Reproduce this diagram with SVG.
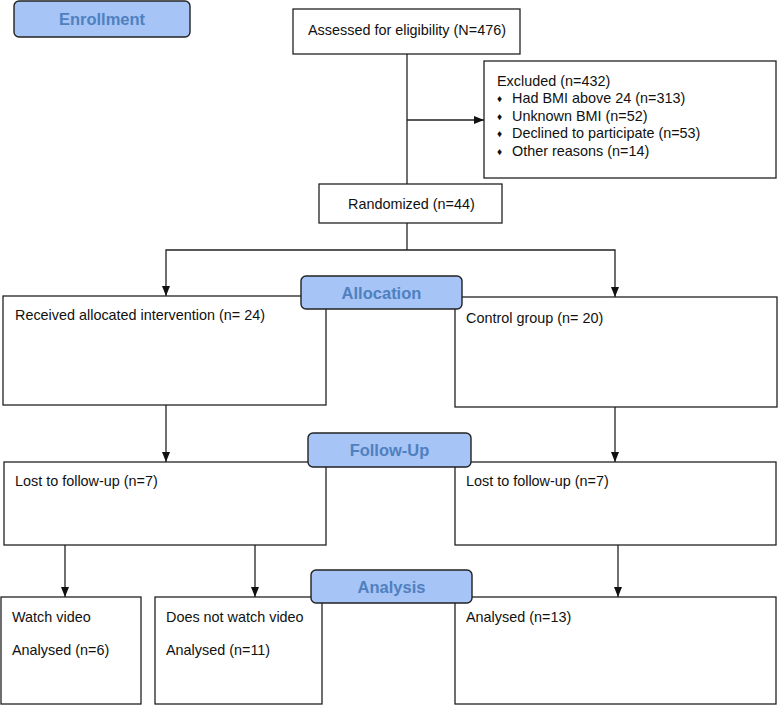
<svg xmlns="http://www.w3.org/2000/svg" width="778" height="705" viewBox="0 0 778 705">
<defs>
<style>
.box{fill:#fff;stroke:#222;stroke-width:1.3}
.lbl{fill:#a6c4f5;stroke:#222;stroke-width:1.4}
.t{font-family:"Liberation Sans",Arial,sans-serif;font-size:14.4px;fill:#111}
.b{font-family:"Liberation Sans",Arial,sans-serif;font-size:10px;fill:#111}
.lt{font-family:"Liberation Sans",Arial,sans-serif;font-size:16.5px;font-weight:bold;fill:#4f80bf;text-anchor:middle}
.c{fill:none;stroke:#222;stroke-width:1.3}
</style>
<marker id="ah" markerWidth="10" markerHeight="10" viewBox="0 0 10 10" refX="10" refY="5" orient="auto" markerUnits="userSpaceOnUse">
<path d="M0,1 L10,5 L0,9 Z" fill="#111"/>
</marker>
</defs>
<rect width="778" height="705" fill="#fff"/>
<g id="connectors">
<line class="c" x1="407" y1="54" x2="407" y2="184"/>
<line class="c" x1="407" y1="120" x2="484" y2="120" marker-end="url(#ah)"/>
<line class="c" x1="407" y1="223" x2="407" y2="250"/>
<polyline class="c" points="407,250 166,250 166,296" marker-end="url(#ah)"/>
<polyline class="c" points="407,250 615,250 615,297" marker-end="url(#ah)"/>
<line class="c" x1="166" y1="405" x2="166" y2="462" marker-end="url(#ah)"/>
<line class="c" x1="615" y1="407" x2="615" y2="462" marker-end="url(#ah)"/>
<line class="c" x1="65" y1="545" x2="65" y2="597" marker-end="url(#ah)"/>
<line class="c" x1="255" y1="545" x2="255" y2="597" marker-end="url(#ah)"/>
<line class="c" x1="618" y1="545" x2="618" y2="597" marker-end="url(#ah)"/>
</g>
<g id="assessed">
<rect class="box" x="293" y="9" width="227" height="45"/>
<text class="t" x="308" y="35">Assessed for eligibility (N=476)</text>
</g>
<g id="excluded">
<rect class="box" x="484" y="61" width="292" height="117"/>
<text class="t" x="497" y="86">Excluded (n=432)</text>
<text class="b" x="497" y="102">♦</text>
<text class="t" x="512" y="103">Had BMI above 24 (n=313)</text>
<text class="b" x="497" y="120">♦</text>
<text class="t" x="512" y="121">Unknown BMI (n=52)</text>
<text class="b" x="497" y="137">♦</text>
<text class="t" x="512" y="138">Declined to participate (n=53)</text>
<text class="b" x="497" y="155">♦</text>
<text class="t" x="512" y="156">Other reasons (n=14)</text>
</g>
<g id="randomized">
<rect class="box" x="319" y="184" width="183" height="39"/>
<text class="t" x="348" y="209">Randomized (n=44)</text>
</g>
<g id="intervention">
<rect class="box" x="3" y="296" width="323" height="109"/>
<text class="t" x="15" y="320">Received allocated intervention (n= 24)</text>
</g>
<g id="control">
<rect class="box" x="455" y="297" width="322" height="110"/>
<text class="t" x="466" y="323">Control group (n= 20)</text>
</g>
<g id="lost-left">
<rect class="box" x="4" y="462" width="322" height="83"/>
<text class="t" x="15" y="486">Lost to follow-up (n=7)</text>
</g>
<g id="lost-right">
<rect class="box" x="455" y="462" width="321" height="83"/>
<text class="t" x="466" y="486">Lost to follow-up (n=7)</text>
</g>
<g id="watch">
<rect class="box" x="1" y="597" width="140" height="107"/>
<text class="t" x="12" y="622">Watch video</text>
<text class="t" x="12" y="655">Analysed (n=6)</text>
</g>
<g id="nowatch">
<rect class="box" x="155" y="597" width="167" height="107"/>
<text class="t" x="166" y="622">Does not watch video</text>
<text class="t" x="166" y="655">Analysed (n=11)</text>
</g>
<g id="analysed-control">
<rect class="box" x="455" y="597" width="321" height="107"/>
<text class="t" x="466" y="622">Analysed (n=13)</text>
</g>
<g id="enrollment-label">
<rect class="lbl" x="14" y="1" width="176" height="36" rx="5"/>
<text class="lt" x="102" y="25">Enrollment</text>
</g>
<g id="allocation-label">
<rect class="lbl" x="301" y="276" width="161" height="33" rx="5"/>
<text class="lt" x="381.5" y="299">Allocation</text>
</g>
<g id="followup-label">
<rect class="lbl" x="308" y="433" width="163" height="34" rx="5"/>
<text class="lt" x="389.5" y="456">Follow-Up</text>
</g>
<g id="analysis-label">
<rect class="lbl" x="311" y="570" width="161" height="33" rx="5"/>
<text class="lt" x="391.5" y="593">Analysis</text>
</g>
</svg>
